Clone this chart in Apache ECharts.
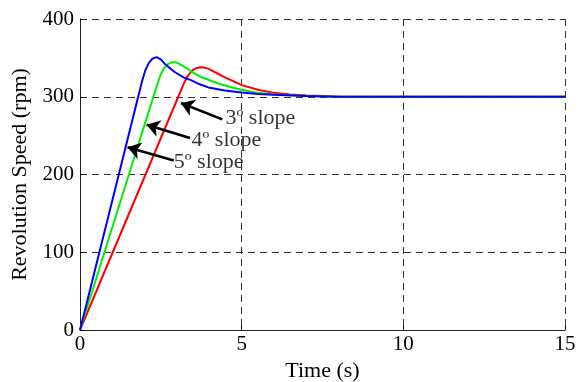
<!DOCTYPE html>
<html>
<head>
<meta charset="utf-8">
<script src="https://cdn.jsdelivr.net/npm/echarts@6/dist/echarts.min.js"></script>
<style>
  html, body { margin: 0; padding: 0; background: #fff; }
  #chart { width: 580px; height: 382px; }
</style>
</head>
<body>
<div id="chart"></div>
<script>
// speed curves, [time s, rpm]
const slope3 = [[0, 0], [3.04, 300], [3.2, 316], [3.32, 326], [3.45, 333], [3.58, 336.5], [3.71, 338],
  [3.85, 337.5], [4.0, 335.5], [4.18, 331.5], [4.48, 325], [4.64, 322], [5.0, 315], [5.5, 309], [6.0, 305],
  [6.5, 303], [7.0, 301.5], [7.5, 301], [8.0, 300], [15, 300]]
const slope4 = [[0, 0], [2.27, 300], [2.4, 317], [2.5, 329], [2.6, 337], [2.72, 342], [2.85, 344.5], [2.95, 344.5],
  [3.05, 342.5], [3.25, 338], [3.5, 331], [3.76, 325], [4.28, 317], [4.7, 312], [5.0, 309], [5.5, 305],
  [6.0, 303], [6.5, 302], [7.0, 301], [8.0, 300], [15, 300]]
const slope5 = [[0, 0], [1.8, 300], [1.92, 320], [2.02, 334], [2.12, 343], [2.24, 349], [2.37, 351],
  [2.5, 348], [2.63, 342], [2.8, 336], [2.94, 331.5], [3.2, 325], [3.45, 321], [3.7, 316], [3.97, 312],
  [4.48, 308], [5.0, 305.5], [5.5, 303.5], [6.0, 302.5], [7.0, 301], [8.0, 300], [15, 300]]

const xTicks = [0, 5, 10, 15]
const yTicks = [0, 100, 200, 300, 400]

// annotations: label, text anchor, arrow tail, arrow tip
const noteLabels = ['3º slope', '4º slope', '5º slope']
const noteText = [[4.5, 272], [3.45, 244], [2.9, 216]]
const arrowTail = [[4.4, 271], [3.4, 247], [2.9, 218]]
const arrowTip = [[3.12, 292], [2.06, 264], [1.47, 235]]

const font = 'Liberation Serif'
const chart = echarts.init(document.getElementById('chart'))

const lineSeries = (name, data, color) => ({
  name,
  type: 'line',
  data,
  symbol: 'none',
  animation: false,
  lineStyle: { color, width: 2 },
  z: 3
})

const option = {
  backgroundColor: '#fff',
  animation: false,
  grid: { left: 80, right: 15, top: 19, bottom: 52, outerBoundsMode: 'none', containLabel: false },
  xAxis: {
    type: 'value',
    min: 0,
    max: 15,
    interval: 5,
    name: 'Time (s)',
    nameLocation: 'middle',
    nameGap: 23,
    nameTextStyle: { fontFamily: font, fontSize: 22, color: '#000' },
    axisLine: { lineStyle: { color: '#222', width: 1 } },
    axisTick: { inside: true, length: 4, lineStyle: { color: '#000' } },
    axisLabel: {
      margin: 4, fontFamily: font, fontSize: 21, color: '#000',
      formatter: v => xTicks.includes(v) ? String(v) : ''
    },
    splitLine: { show: true, lineStyle: { color: '#333', type: [7, 5], width: 1 } }
  },
  yAxis: {
    type: 'value',
    min: 0,
    max: 400,
    interval: 100,
    name: 'Revolution Speed (rpm)',
    nameLocation: 'middle',
    nameGap: 48,
    nameTextStyle: { fontFamily: font, fontSize: 22, color: '#000' },
    axisLine: { show: true, lineStyle: { color: '#222', width: 1 } },
    axisTick: { show: true, inside: true, length: 4, lineStyle: { color: '#000' } },
    axisLabel: {
      margin: 6, fontFamily: font, fontSize: 21, color: '#000',
      formatter: v => yTicks.includes(v) ? String(v) : ''
    },
    splitLine: { show: true, lineStyle: { color: '#333', type: [7, 5], width: 1 } }
  },
  series: [
    lineSeries('3º', slope3, '#ff0000'),
    lineSeries('4º', slope4, '#00ee00'),
    lineSeries('5º', slope5, '#0000ff'),
    {
      type: 'scatter',
      data: noteText.map((p, i) => ({ value: p, name: noteLabels[i] })),
      symbolSize: 0,
      z: 5,
      label: {
        show: true,
        position: 'right',
        distance: 0,
        formatter: p => p.name,
        fontFamily: font,
        fontSize: 22,
        color: '#000'
      },
      markLine: {
        silent: true,
        animation: false,
        symbol: ['none', 'arrow'],
        symbolSize: 13,
        label: { show: false },
        lineStyle: { color: '#000', width: 2.5, type: 'solid' },
        data: arrowTail.map((p, i) => [{ coord: p }, { coord: arrowTip[i] }])
      }
    }
  ]
}
chart.setOption(option)
</script>
</body>
</html>
